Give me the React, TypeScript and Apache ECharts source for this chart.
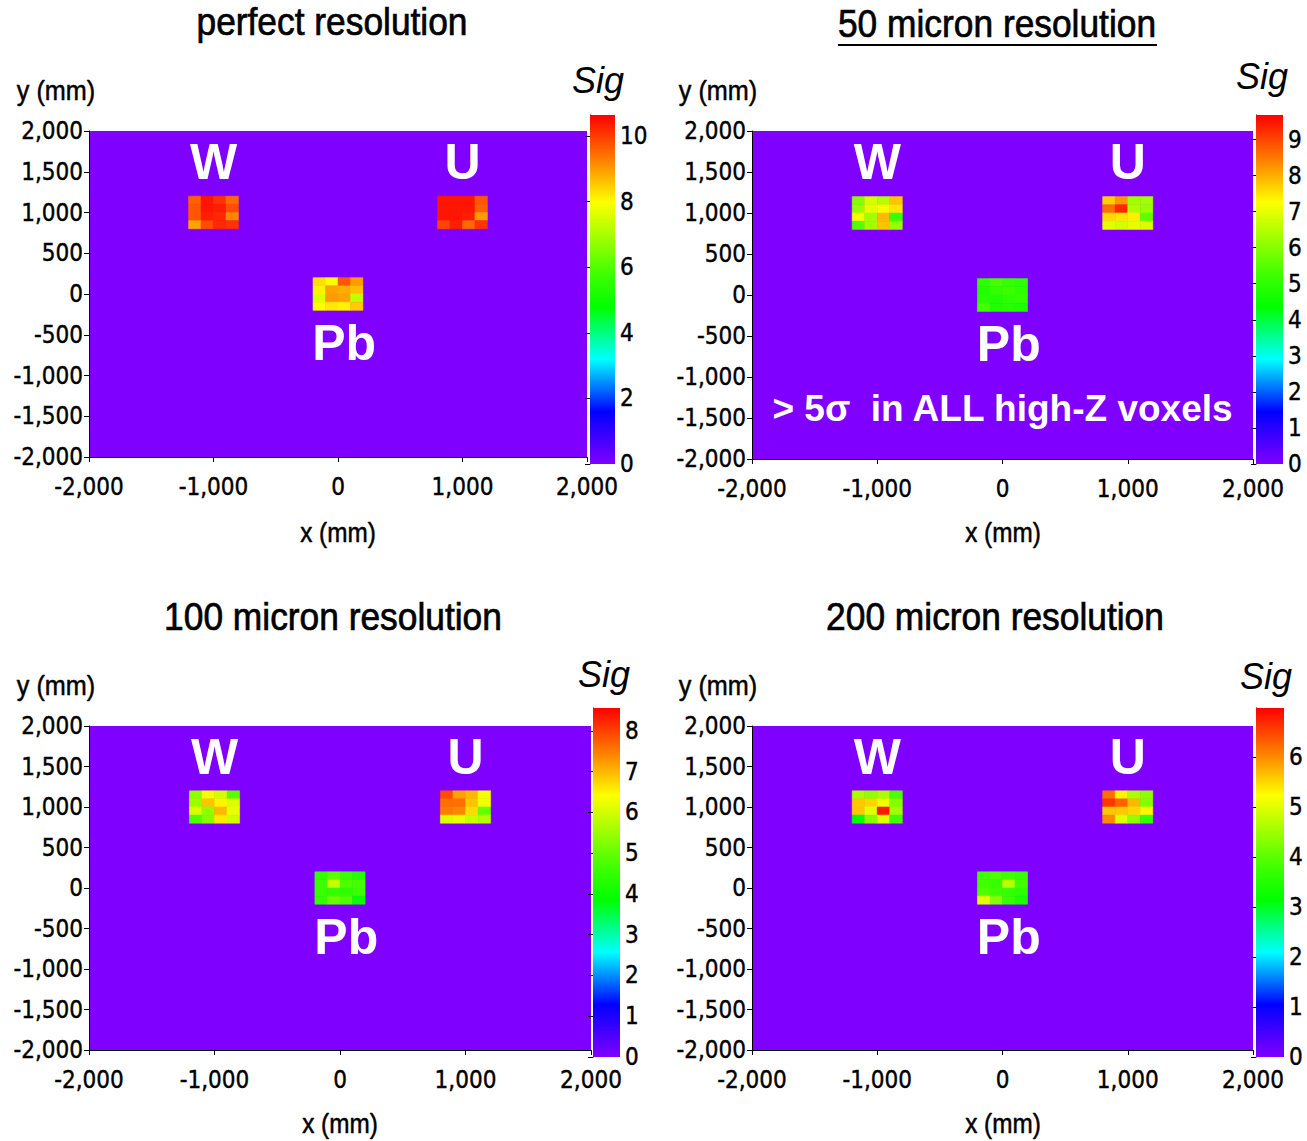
import React, { useEffect, useRef } from "react";
import * as echarts from "echarts";

// Significance per 100 mm voxel, rows top→bottom, columns left→right (4×4 per block)
const perfectW = [9.6, 10.4, 10.1, 9.5, 9.7, 10.4, 10.3, 9.8, 9.7, 10.3, 10.2, 9.2, 8.9, 9.8, 10.2, 10.1];
const perfectU = [10.4, 10.4, 10.4, 9.7, 10.4, 10.4, 10.4, 9.6, 10.4, 10.4, 10.3, 9.0, 9.9, 10.3, 9.5, 10.1];
const perfectPb = [8.3, 8.0, 9.7, 9.0, 8.1, 8.9, 8.8, 8.6, 7.6, 9.0, 8.9, 7.3, 8.0, 8.2, 8.1, 8.5];

const micron50W = [6.0, 6.8, 6.5, 7.8, 6.2, 7.0, 7.3, 7.5, 7.2, 6.3, 7.9, 5.2, 5.5, 6.3, 7.8, 6.2];
const micron50U = [7.7, 8.2, 6.3, 6.3, 8.6, 9.3, 6.4, 6.2, 7.6, 7.5, 7.4, 5.6, 7.0, 6.8, 7.0, 6.9];
const micron50Pb = [5.0, 5.3, 5.1, 5.0, 4.8, 5.1, 5.2, 5.0, 4.9, 4.8, 5.0, 5.1, 5.3, 4.8, 4.9, 4.8];

const micron100W = [5.4, 6.3, 6.0, 4.9, 5.5, 6.9, 6.5, 6.1, 6.1, 5.4, 7.0, 6.2, 4.8, 5.3, 6.6, 6.0];
const micron100U = [7.9, 7.2, 7.0, 6.3, 7.6, 7.6, 6.9, 6.3, 7.5, 7.4, 6.7, 5.0, 6.1, 6.2, 5.9, 5.7];
const micron100Pb = [4.5, 4.9, 4.6, 4.3, 4.6, 5.9, 4.8, 4.7, 4.6, 4.5, 4.4, 4.6, 4.5, 5.0, 4.8, 4.0];

const micron200W = [4.6, 4.4, 4.6, 3.9, 5.6, 5.5, 5.1, 4.3, 5.6, 5.0, 6.8, 4.5, 3.2, 4.3, 5.0, 3.8];
const micron200U = [6.2, 5.3, 4.6, 4.4, 6.6, 6.3, 5.7, 4.3, 5.6, 5.6, 5.5, 5.3, 6.0, 5.0, 4.4, 3.7];
const micron200Pb = [3.8, 3.9, 3.8, 3.7, 3.8, 3.7, 4.7, 3.8, 3.9, 3.8, 3.7, 3.6, 5.0, 4.3, 3.7, 3.4];

const TITLES = ["perfect resolution", "50 micron resolution", "100 micron resolution", "200 micron resolution"];
const SIG_MAX = [10.64, 9.68, 8.56, 6.98];
const SIG_STEP = [2, 1, 1, 1];
const MATERIALS = ["W", "U", "Pb"];
// top-left corner (mm) of each 4×4 block
const BLOCK_ORIGINS = [
  [-1200, 1200],
  [800, 1200],
  [-200, 200],
];
const MATERIAL_LABEL_POS = [
  [-1000, 1620],
  [1000, 1620],
  [50, -600],
];
const NOTE_TEXT = "> 5σ  in ALL high-Z voxels";
const NOTE_POS = [0, -1390];
const VOXEL = 100;

const PANEL_DATA = [
  [perfectW, perfectU, perfectPb],
  [micron50W, micron50U, micron50Pb],
  [micron100W, micron100U, micron100Pb],
  [micron200W, micron200U, micron200Pb],
];

// Pixel layout of the four panels
const LAYOUT = [
  { grid: [89, 131, 498, 326], cb: [590, 115, 25, 349], title: [332, 22], sig: [598, 80], yName: [56, 91], xName: [338, 533] },
  { grid: [752, 131, 501, 328], cb: [1256, 115, 27, 349], title: [997, 24], sig: [1262, 76], yName: [718, 91], xName: [1003, 533] },
  { grid: [89, 726, 502, 324], cb: [593, 708, 27, 349], title: [333, 617], sig: [604, 674], yName: [56, 686], xName: [340, 1124] },
  { grid: [752, 726, 501, 324], cb: [1256, 708, 28, 349], title: [995, 617], sig: [1266, 676], yName: [718, 686], xName: [1003, 1124] },
];

const CONDENSED = '"DejaVu Sans Condensed", "Liberation Sans Narrow", sans-serif';
const ARIAL = '"Liberation Sans", Arial, sans-serif';

const STOPS: [number, number[]][] = [
  [0.0, [128, 0, 255]],
  [0.15, [0, 0, 255]],
  [0.3, [0, 255, 255]],
  [0.45, [0, 255, 0]],
  [0.54, [60, 255, 0]],
  [0.75, [255, 255, 0]],
  [0.87, [255, 128, 0]],
  [1.0, [255, 0, 0]],
];

function palette(t: number): string {
  const u = Math.max(0, Math.min(1, t));
  for (let i = 1; i < STOPS.length; i++) {
    const [o1, c1] = STOPS[i];
    const [o0, c0] = STOPS[i - 1];
    if (u <= o1) {
      const f = (u - o0) / (o1 - o0);
      const c = c0.map((v, k) => Math.round(v + (c1[k] - v) * f));
      return `rgb(${c[0]},${c[1]},${c[2]})`;
    }
  }
  return "rgb(255,0,0)";
}

function withCommas(v: number): string {
  const s = Math.abs(v).toString().replace(/\B(?=(\d{3})+(?!\d))/g, ",");
  return (v < 0 ? "-" : "") + s;
}

function textEl(text: string, x: number, y: number, size: number, sx: number, extra: any = {}) {
  return {
    type: "text",
    x,
    y,
    scaleX: sx,
    style: {
      text,
      fontFamily: ARIAL,
      fontSize: size,
      fill: "#000",
      align: "center",
      verticalAlign: "middle",
      ...extra,
    },
  };
}

function buildOption() {
  const grids: any[] = [];
  const xAxes: any[] = [];
  const yAxes: any[] = [];
  const series: any[] = [];
  const graphic: any[] = [];

  const tickLabel = {
    fontFamily: CONDENSED,
    fontSize: 24,
    color: "#000",
    textBorderColor: "#000",
    textBorderWidth: 0.4,
  };

  LAYOUT.forEach((L, p) => {
    const maxSig = SIG_MAX[p];
    const [gl, gt, gw, gh] = L.grid;
    const [cl, ct, cw, ch] = L.cb;
    grids.push({ left: gl, top: gt, width: gw, height: gh, show: true, backgroundColor: palette(0), borderWidth: 0 });
    grids.push({ left: cl, top: ct, width: cw, height: ch, show: false });

    const axisCommon = {
      axisLine: { show: true, onZero: false, lineStyle: { color: "#000", width: 1 } },
      axisTick: { show: true, length: 5, lineStyle: { color: "#000" } },
      splitLine: { show: false },
    };
    xAxes.push({
      gridIndex: 2 * p,
      type: "value",
      min: -2000,
      max: 2000,
      interval: 1000,
      ...axisCommon,
      axisLabel: { ...tickLabel, formatter: withCommas, margin: 18 },
    });
    yAxes.push({
      gridIndex: 2 * p,
      type: "value",
      min: -2000,
      max: 2000,
      interval: 500,
      ...axisCommon,
      axisLabel: { ...tickLabel, formatter: withCommas, margin: 6, padding: [6, 0, 0, 0] },
    });
    // colour bar axes
    xAxes.push({ gridIndex: 2 * p + 1, type: "value", min: 0, max: 1, show: false });
    yAxes.push({
      gridIndex: 2 * p + 1,
      type: "value",
      position: "right",
      min: 0,
      max: maxSig,
      interval: SIG_STEP[p],
      axisLine: { show: true, lineStyle: { color: "#000" } },
      axisTick: { show: true, inside: true, length: 5, lineStyle: { color: "#000" } },
      splitLine: { show: false },
      axisLabel: {
        ...tickLabel,
        showMaxLabel: false,
        formatter: (v: number) => (Math.abs(v - Math.round(v)) < 1e-6 ? String(Math.round(v)) : ""),
        margin: 5,
      },
    });

    // voxels
    const cells: number[][] = [];
    PANEL_DATA[p].forEach((vals, b) => {
      const [ox, oy] = BLOCK_ORIGINS[b];
      vals.forEach((v, i) => {
        const r = Math.floor(i / 4);
        const c = i % 4;
        cells.push([ox + c * VOXEL, oy - (r + 1) * VOXEL, v]);
      });
    });
    series.push({
      type: "custom",
      xAxisIndex: 2 * p,
      yAxisIndex: 2 * p,
      clip: true,
      data: cells,
      renderItem: (params: any, api: any) => {
        const x0 = api.value(0);
        const y0 = api.value(1);
        const v = api.value(2);
        const a = api.coord([x0, y0 + VOXEL]);
        const b = api.coord([x0 + VOXEL, y0]);
        const col = palette(v / maxSig);
        return {
          type: "rect",
          shape: { x: a[0], y: a[1], width: b[0] - a[0], height: b[1] - a[1] },
          style: { fill: col, stroke: col, lineWidth: 0.6 },
        };
      },
    });

    // material labels (and the note in the 50 micron panel)
    const labelPos = MATERIAL_LABEL_POS.map((q) => q.slice());
    const labelTexts = MATERIALS.slice();
    const labelSizes = [50, 50, 50];
    if (p === 1) {
      labelPos.push(NOTE_POS.slice());
      labelTexts.push(NOTE_TEXT);
      labelSizes.push(37);
    }
    series.push({
      type: "custom",
      xAxisIndex: 2 * p,
      yAxisIndex: 2 * p,
      z: 5,
      data: labelPos,
      renderItem: (params: any, api: any) => {
        const pt = api.coord([api.value(0), api.value(1)]);
        return {
          type: "text",
          x: pt[0],
          y: pt[1],
          style: {
            text: labelTexts[params.dataIndex],
            fill: "#fff",
            fontFamily: ARIAL,
            fontWeight: "bold",
            fontSize: labelSizes[params.dataIndex],
            align: "center",
            verticalAlign: "middle",
          },
        };
      },
    });

    // colour bar
    const gradient = new echarts.graphic.LinearGradient(
      0,
      1,
      0,
      0,
      STOPS.map(([o, c]) => ({ offset: o, color: `rgb(${c[0]},${c[1]},${c[2]})` }))
    );
    series.push({
      type: "custom",
      xAxisIndex: 2 * p + 1,
      yAxisIndex: 2 * p + 1,
      data: [[0]],
      renderItem: (params: any) => {
        const cs = params.coordSys;
        return {
          type: "rect",
          shape: { x: cs.x, y: cs.y, width: cs.width, height: cs.height },
          style: { fill: gradient },
        };
      },
    });

    // texts around the panel
    graphic.push(textEl(TITLES[p], L.title[0], L.title[1], 38, 0.93, { stroke: "#000", lineWidth: 0.7 }));
    graphic.push(textEl("Sig", L.sig[0], L.sig[1], 36, 1, { fontStyle: "italic" }));
    graphic.push(textEl("y (mm)", L.yName[0], L.yName[1], 28, 0.9, { stroke: "#000", lineWidth: 0.5 }));
    graphic.push(textEl("x (mm)", L.xName[0], L.xName[1], 27, 0.9, { stroke: "#000", lineWidth: 0.5 }));
  });

  // underline of the 50 micron title
  graphic.push({
    type: "line",
    shape: { x1: 838, y1: 45, x2: 1157, y2: 45 },
    style: { stroke: "#000", lineWidth: 2 },
  });

  return {
    animation: false,
    backgroundColor: "#fff",
    grid: grids,
    xAxis: xAxes,
    yAxis: yAxes,
    series,
    graphic,
  };
}

export default function App() {
  const ref = useRef<HTMLDivElement>(null);
  useEffect(() => {
    document.body.style.margin = "0";
    if (!ref.current) return;
    const chart = echarts.init(ref.current, undefined, { renderer: "svg" });
    chart.setOption(buildOption() as any);
    return () => chart.dispose();
  }, []);
  return <div ref={ref} style={{ width: 1307, height: 1141 }} />;
}
